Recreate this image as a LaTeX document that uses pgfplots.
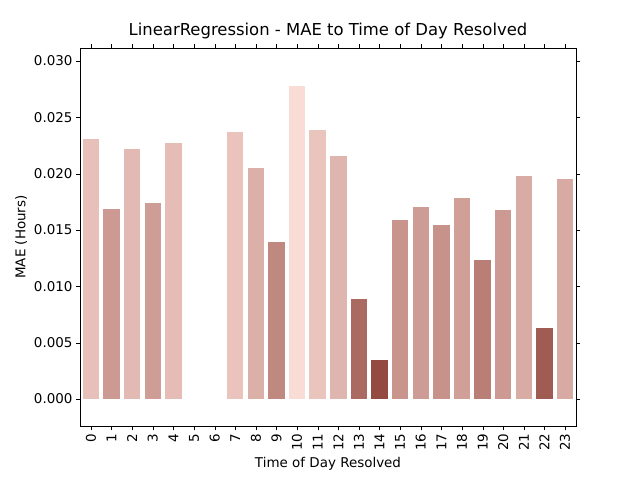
\documentclass[border=0pt]{standalone}
\usepackage{pgfplots}
\pgfplotsset{compat=1.18}
\usepackage{fontspec}
\setmainfont{DejaVu Sans}
\definecolor{lt}{RGB}{250,220,214}
\definecolor{dk}{RGB}{148,74,64}
\begin{document}
\begin{tikzpicture}
\begin{axis}[
  scale only axis, width=496bp, height=378bp,
  xmin=-0.53, xmax=23.53, ymin=-0.0024, ymax=0.03115,
  xtick={0,...,23}, xticklabel style={rotate=90, anchor=east},
  ytick={0,0.005,0.01,0.015,0.02,0.025,0.03},
  yticklabel style={/pgf/number format/.cd, fixed, fixed zerofill, precision=3, assume math mode=true},
  xticklabel style={/pgf/number format/assume math mode=true},
  scaled y ticks=false,
  tick label style={font=\fontsize{13.5}{16}\selectfont},
  label style={font=\fontsize{13.5}{16}\selectfont},
  title style={font=\fontsize{16.5}{20}\selectfont},
  title={LinearRegression - MAE to Time of Day Resolved},
  xlabel={Time of Day Resolved}, ylabel={MAE (Hours)},
  tick align=outside, tick style={black}, major tick length=4bp,
  clip=false,
  every axis plot/.append style={ybar, bar width=0.8, bar shift=0pt, draw=none},
]
\path (rel axis cs:-0.1613,-0.1429) rectangle (rel axis cs:1.129,1.127);
\addplot[fill=lt!81!dk] coordinates {(0,0.0231)};
\addplot[fill=lt!55!dk] coordinates {(1,0.0169)};
\addplot[fill=lt!77!dk] coordinates {(2,0.0222)};
\addplot[fill=lt!57!dk] coordinates {(3,0.0174)};
\addplot[fill=lt!79!dk] coordinates {(4,0.0227)};
\addplot[fill=lt!83!dk] coordinates {(7,0.0237)};
\addplot[fill=lt!70!dk] coordinates {(8,0.0205)};
\addplot[fill=lt!43!dk] coordinates {(9,0.0139)};
\addplot[fill=lt!100!dk] coordinates {(10,0.0278)};
\addplot[fill=lt!84!dk] coordinates {(11,0.0239)};
\addplot[fill=lt!74!dk] coordinates {(12,0.0216)};
\addplot[fill=lt!22!dk] coordinates {(13,0.0089)};
\addplot[fill=lt!0!dk] coordinates {(14,0.0035)};
\addplot[fill=lt!51!dk] coordinates {(15,0.0159)};
\addplot[fill=lt!56!dk] coordinates {(16,0.0170)};
\addplot[fill=lt!49!dk] coordinates {(17,0.0154)};
\addplot[fill=lt!59!dk] coordinates {(18,0.0178)};
\addplot[fill=lt!36!dk] coordinates {(19,0.0123)};
\addplot[fill=lt!55!dk] coordinates {(20,0.0168)};
\addplot[fill=lt!67!dk] coordinates {(21,0.0198)};
\addplot[fill=lt!12!dk] coordinates {(22,0.0063)};
\addplot[fill=lt!66!dk] coordinates {(23,0.0195)};
\end{axis}
\end{tikzpicture}
\end{document}
